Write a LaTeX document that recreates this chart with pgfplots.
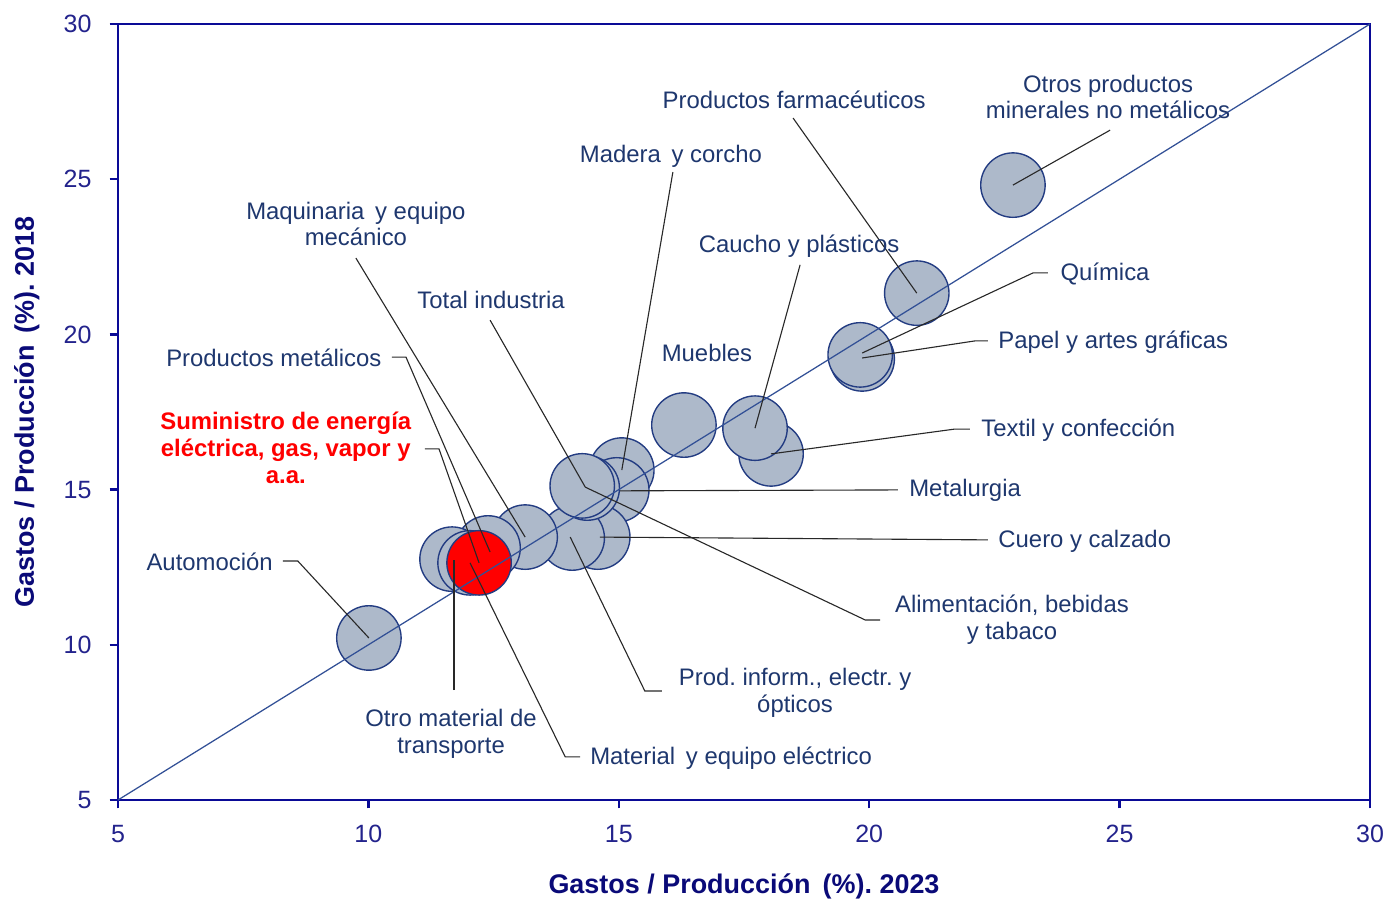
\documentclass[border=0pt]{standalone}
\usepackage{fontspec}
\setmainfont{Liberation Sans}
\usepackage{pgfplots}
\pgfplotsset{compat=1.18}
\usepackage{pgfplotstable}

\definecolor{axisblue}{RGB}{10,10,150}
\definecolor{tickblue}{RGB}{35,35,140}
\definecolor{titleblue}{RGB}{10,10,120}
\definecolor{annot}{RGB}{30,55,110}
\definecolor{bubfill}{RGB}{173,185,202}
\definecolor{bubedge}{RGB}{35,60,130}
\definecolor{diagc}{RGB}{50,80,150}
\definecolor{lead}{RGB}{40,40,40}

\newcommand\annfont{\fontsize{8.6}{9.6}\selectfont}
\frenchspacing

\pgfplotstableread{
x y
22.87 24.81
20.95 21.33
19.86 19.21
19.82 19.34
18.04 16.15
17.72 16.98
16.30 17.08
15.06 15.63
14.96 14.99
14.58 13.47
14.07 13.44
14.37 15.05
14.27 15.12
13.13 13.47
12.39 13.12
11.67 12.76
12.03 12.64
10.01 10.22
}\bubbles

\pgfplotstableread{
x y
12.21 12.64
}\redbubble

\begin{document}
\begin{tikzpicture}
\begin{axis}[
  name=ax,
  scale only axis,
  width=450.72pt, height=279.36pt,
  xmin=5, xmax=30, ymin=5, ymax=30,
  xtick={5,10,...,30}, ytick={5,10,...,30},
  xtick pos=left, ytick pos=left,
  tick align=outside,
  major tick length=3pt,
  tick style={axisblue, line width=0.9pt},
  axis line style={axisblue, line width=0.9pt},
  /pgf/number format/assume math mode=true,
  ticklabel style={font=\fontsize{9}{10}\selectfont, text=tickblue},
  xticklabel style={yshift=-2.5pt},
  yticklabel style={xshift=-3pt},
  xlabel={Gastos / Producción\hspace{0.45em}(\%). 2023},
  ylabel={Gastos / Producción\hspace{0.45em}(\%). 2018},
  label style={font=\bfseries\fontsize{9.7}{11}\selectfont, text=titleblue},
  xlabel style={at={(axis description cs:0.5,-0.111)}, anchor=center},
  ylabel style={at={(axis description cs:-0.0728,0.5)}, anchor=center},
  clip=false,
  clip marker paths=true,
  leader/.style={lead, line width=0.4pt, mark=none, forget plot},
]
\addplot[only marks, mark=*, mark size=11.6pt,
  mark options={fill=bubfill, draw=bubedge, line width=0.5pt}] table {\bubbles};
\addplot[only marks, mark=*, mark size=11.6pt,
  mark options={fill=red, draw=bubedge, line width=0.5pt}] table {\redbubble};
\addplot[diagc, line width=0.45pt, mark=none] coordinates {(5,5) (30,30)};

% leaders
\addplot[leader] coordinates {(24.81,26.58) (22.87,24.81)};
\addplot[leader] coordinates {(18.48,26.97) (20.95,21.33)};
\addplot[leader] coordinates {(16.08,25.23) (15.06,15.63)};
\addplot[leader] coordinates {(18.62,22.24) (17.72,16.98)};
\addplot[leader] coordinates {(23.57,21.98) (23.27,21.98) (19.86,19.40)};
\addplot[leader] coordinates {(22.37,19.79) (22.11,19.79) (19.86,19.24)};
\addplot[leader] coordinates {(22.01,16.95) (21.71,16.95) (18.04,16.15)};
\addplot[leader] coordinates {(20.57,14.99) (15.02,14.96)};
\addplot[leader] coordinates {(22.37,13.38) (14.62,13.47)};
\addplot[leader] coordinates {(20.22,10.80) (19.92,10.80) (14.33,15.08)};
\addplot[leader] coordinates {(15.86,8.51) (15.52,8.51) (14.03,13.47)};
\addplot[leader] coordinates {(14.23,6.39) (13.93,6.39) (12.03,12.64)};
\addplot[leader] coordinates {(11.71,8.54) (11.71,12.73)};
\addplot[leader] coordinates {(8.29,12.70) (8.59,12.70) (10.01,10.22)};
\addplot[leader] coordinates {(10.47,19.27) (10.75,19.27) (12.43,12.99)};
\addplot[leader] coordinates {(11.13,16.31) (11.41,16.31) (12.21,12.64)};
\addplot[leader] coordinates {(9.75,22.46) (13.13,13.47)};
\addplot[leader] coordinates {(12.43,20.46) (14.33,15.08)};

% labels
\begin{scope}[every node/.style={text=annot, font=\annfont, inner sep=0pt, align=center}]
\node at (axis cs:24.77,27.65) {Otros productos\\minerales no metálicos};
\node at (axis cs:18.50,27.55) {Productos farmacéuticos};
\node at (axis cs:16.04,25.75) {Madera\hspace{0.45em}y corcho};
\node at (axis cs:18.60,22.85) {Caucho y plásticos};
\node at (axis cs:16.76,19.40) {Muebles};
\node[anchor=west] at (axis cs:23.81,21.95) {Química};
\node[anchor=west] at (axis cs:22.57,19.76) {Papel y artes gráficas};
\node[anchor=west] at (axis cs:22.23,16.92) {Textil y confección};
\node[anchor=west] at (axis cs:20.79,14.99) {Metalurgia};
\node[anchor=west] at (axis cs:22.57,13.34) {Cuero y calzado};
\node at (axis cs:22.85,10.80) {Alimentación, bebidas\\y tabaco};
\node at (axis cs:18.52,8.45) {Prod. inform., electr. y\\ópticos};
\node[anchor=west] at (axis cs:14.42,6.35) {Material\hspace{0.45em}y equipo eléctrico};
\node at (axis cs:11.65,7.13) {Otro material de\\transporte};
\node[anchor=east] at (axis cs:8.10,12.67) {Automoción};
\node[anchor=east] at (axis cs:10.27,19.24) {Productos metálicos};
\node at (axis cs:9.75,23.56) {Maquinaria\hspace{0.45em}y equipo\\mecánico};
\node at (axis cs:12.45,21.11) {Total industria};
\node[text=red, font=\bfseries\annfont] at (axis cs:8.35,16.34) {Suministro de energía\\eléctrica, gas, vapor y\\a.a.};
\end{scope}
\end{axis}
\pgfresetboundingbox
\path ([shift={(-42.48pt,-36pt)}]ax.south west) rectangle ([shift={(7.2pt,8.64pt)}]ax.north east);
\end{tikzpicture}
\end{document}
